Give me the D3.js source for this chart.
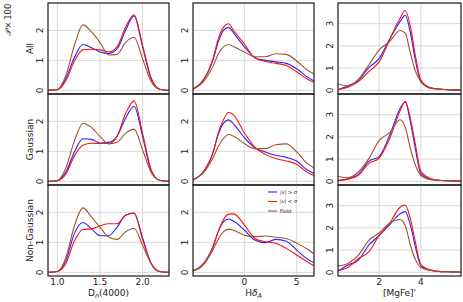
<!DOCTYPE html>
<html><head><meta charset="utf-8">
<script src="https://cdn.jsdelivr.net/npm/d3@7"></script>
<style>body{margin:0;background:#fff}svg{display:block;font-family:"DejaVu Sans",sans-serif}</style>
</head><body><svg id="c" width="463" height="302"></svg>
<script>
// ---- data ----
const rowNames = ["All", "Gaussian", "Non-Gaussian"];
const seriesNames = ["|v| > σ", "|v| < σ", "Field"];
const seriesColors = ["#2222ff", "#ff1111", "#a0522d"];

const dnX = [0.89, 1.0, 1.1, 1.2, 1.3, 1.4, 1.5, 1.6, 1.7, 1.8, 1.9, 2.0, 2.1, 2.2, 2.31];
const hdX = [-4.9, -4, -3, -2.5, -2, -1.5, -1, 0, 1, 2, 3, 4, 5, 6, 6.65];
const mgX = [0, 0.5, 1, 1.5, 2, 2.5, 3, 3.25, 3.5, 3.75, 4, 4.5, 5, 5.5, 5.93];

const dnTicks = [1.0, 1.5, 2.0];
const hdTicks = [-5, 0, 5];
const mgTicks = [0, 2, 4];
const yTicksA = [0, 1, 2];
const yTicksB = [0, 1, 2, 3];

// Dn(4000)
const dnAllHigh = [0, 0.02, 0.4, 1.1, 1.53, 1.42, 1.28, 1.23, 1.38, 2.0, 2.48, 1.45, 0.38, 0.04, 0];
const dnAllLow  = [0, 0.02, 0.32, 0.98, 1.35, 1.37, 1.35, 1.28, 1.45, 2.1, 2.52, 1.5, 0.42, 0.04, 0];
const dnAllField= [0, 0.03, 0.5, 1.5, 2.18, 1.95, 1.6, 1.18, 1.2, 1.6, 1.77, 1.05, 0.3, 0.04, 0];
const dnGHigh   = [0, 0.02, 0.32, 0.98, 1.42, 1.4, 1.28, 1.3, 1.5, 2.1, 2.5, 1.5, 0.35, 0.04, 0];
const dnGLow    = [0, 0.02, 0.25, 0.85, 1.2, 1.27, 1.26, 1.26, 1.5, 2.25, 2.68, 1.6, 0.4, 0.04, 0];
const dnGField  = [0, 0.03, 0.45, 1.35, 1.93, 1.8, 1.5, 1.25, 1.3, 1.6, 1.74, 1.05, 0.3, 0.04, 0];
const dnNHigh   = [0, 0.03, 0.4, 1.3, 1.66, 1.45, 1.22, 1.22, 1.5, 1.9, 1.97, 1.15, 0.3, 0.03, 0];
const dnNLow    = [0, 0.03, 0.3, 1.05, 1.43, 1.45, 1.55, 1.62, 1.62, 1.9, 1.98, 1.1, 0.3, 0.03, 0];
const dnNField  = [0, 0.03, 0.5, 1.55, 2.15, 1.85, 1.5, 1.18, 1.1, 1.35, 1.47, 0.9, 0.3, 0.03, 0];

// H delta A
const hdAllHigh = [0.05, 0.3, 1.0, 1.6, 2.0, 2.1, 1.9, 1.45, 1.1, 1.0, 0.95, 0.9, 0.72, 0.45, 0.32];
const hdAllLow  = [0.05, 0.3, 1.05, 1.7, 2.1, 2.22, 1.98, 1.55, 1.08, 0.97, 0.9, 0.83, 0.62, 0.38, 0.27];
const hdAllField= [0.05, 0.25, 0.8, 1.2, 1.45, 1.53, 1.45, 1.28, 1.12, 1.12, 1.22, 1.2, 0.98, 0.68, 0.55];
const hdGHigh   = [0.05, 0.28, 0.95, 1.55, 1.93, 2.05, 1.9, 1.46, 1.12, 0.98, 0.87, 0.8, 0.68, 0.38, 0.27];
const hdGLow    = [0.05, 0.28, 0.95, 1.6, 2.05, 2.3, 2.2, 1.62, 1.14, 0.9, 0.76, 0.68, 0.57, 0.3, 0.2];
const hdGField  = [0.05, 0.25, 0.78, 1.15, 1.42, 1.56, 1.5, 1.26, 1.09, 1.09, 1.22, 1.25, 0.98, 0.6, 0.45];
const hdNHigh   = [0.05, 0.25, 0.85, 1.35, 1.68, 1.78, 1.7, 1.41, 1.08, 0.99, 1.1, 1.04, 0.74, 0.45, 0.32];
const hdNLow    = [0.05, 0.25, 0.85, 1.35, 1.75, 1.94, 1.95, 1.58, 1.13, 1.02, 0.97, 0.8, 0.58, 0.35, 0.22];
const hdNField  = [0.05, 0.22, 0.75, 1.1, 1.35, 1.44, 1.4, 1.24, 1.19, 1.21, 1.17, 1.13, 0.97, 0.78, 0.62];

// [MgFe]'
const mgAllHigh = [0.03, 0.2, 0.44, 1.02, 1.44, 2.3, 3.09, 3.38, 2.57, 1.3, 0.39, 0.1, 0.05, 0.02, 0.01];
const mgAllLow  = [0.02, 0.14, 0.39, 0.84, 1.29, 2.27, 3.24, 3.59, 2.87, 1.5, 0.47, 0.1, 0.05, 0.02, 0.01];
const mgAllField= [0.29, 0.2, 0.5, 1.14, 1.82, 2.19, 2.69, 2.57, 1.67, 0.84, 0.39, 0.08, 0.05, 0.02, 0.01];
const mgGHigh   = [0.03, 0.12, 0.31, 0.9, 1.12, 2.07, 3.27, 3.57, 2.67, 1.4, 0.35, 0.08, 0.04, 0.02, 0.01];
const mgGLow    = [0.03, 0.1, 0.27, 0.8, 1.05, 1.92, 3.16, 3.6, 2.82, 1.6, 0.45, 0.12, 0.04, 0.02, 0.01];
const mgGField  = [0.22, 0.16, 0.42, 1.02, 1.84, 2.19, 2.77, 2.44, 1.47, 0.7, 0.27, 0.07, 0.04, 0.02, 0.01];
const mgNHigh   = [0.05, 0.33, 0.55, 1.22, 1.66, 2.14, 2.63, 2.73, 2.11, 1.1, 0.3, 0.08, 0.03, 0.02, 0.01];
const mgNLow    = [0.07, 0.22, 0.62, 0.92, 1.66, 2.21, 2.93, 3.03, 2.41, 1.3, 0.35, 0.1, 0.03, 0.02, 0.01];
const mgNField  = [0.28, 0.4, 0.77, 1.44, 1.77, 2.21, 2.38, 2.11, 1.22, 0.55, 0.22, 0.08, 0.03, 0.02, 0.01];

// ---- layout ----
const svg = d3.select("#c");
const colLeft = [48, 193, 338], colW = [121, 121, 123];
const rowTop = [3, 94, 185], rowH = 91;
const cols = [
  {x: dnX, dom: [0.89, 2.31], ticks: dnTicks, fmt: d3.format(".1f"), ydom: [-0.12, 2.91], yt: yTicksA,
   rows: [[dnAllHigh, dnAllLow, dnAllField], [dnGHigh, dnGLow, dnGField], [dnNHigh, dnNLow, dnNField]]},
  {x: hdX, dom: [-4.9, 6.65], ticks: hdTicks, fmt: d3.format("d"), ydom: [-0.12, 2.91], yt: yTicksA,
   rows: [[hdAllHigh, hdAllLow, hdAllField], [hdGHigh, hdGLow, hdGField], [hdNHigh, hdNLow, hdNField]]},
  {x: mgX, dom: [0.02, 5.93], ticks: mgTicks, fmt: d3.format("d"), ydom: [-0.165, 3.93], yt: yTicksB,
   rows: [[mgAllHigh, mgAllLow, mgAllField], [mgGHigh, mgGLow, mgGField], [mgNHigh, mgNLow, mgNField]]}
];

const defs = svg.append("defs");
cols.forEach((c, ci) => {
  const xs = d3.scaleLinear().domain(c.dom).range([colLeft[ci], colLeft[ci] + colW[ci]]);
  c.rows.forEach((series, ri) => {
    const ys = d3.scaleLinear().domain(c.ydom).range([rowTop[ri] + rowH, rowTop[ri]]);
    const id = `clip${ci}${ri}`;
    defs.append("clipPath").attr("id", id).append("rect")
      .attr("x", colLeft[ci]).attr("y", rowTop[ri]).attr("width", colW[ci]).attr("height", rowH);
    const g = svg.append("g");
    // grid
    const gg = g.append("g").attr("clip-path", `url(#${id})`);
    c.ticks.filter(t => t > c.dom[0] && t < c.dom[1]).forEach(t => {
      gg.append("line").attr("x1", xs(t)).attr("x2", xs(t)).attr("y1", rowTop[ri]).attr("y2", rowTop[ri] + rowH)
        .attr("stroke", "#d4d4d4").attr("stroke-width", 0.9);
    });
    c.yt.forEach(t => {
      gg.append("line").attr("x1", colLeft[ci]).attr("x2", colLeft[ci] + colW[ci]).attr("y1", ys(t)).attr("y2", ys(t))
        .attr("stroke", "#d4d4d4").attr("stroke-width", 0.9);
      g.append("text").attr("transform", `translate(${colLeft[ci] - 5.5},${ys(t)}) rotate(-90)`)
        .attr("text-anchor", "middle").attr("font-size", 9).attr("fill", "#222").text(t);
    });
    // curves
    const line = d3.line().x((d, i) => xs(c.x[i])).y(d => ys(d)).curve(d3.curveMonotoneX);
    const cg = g.append("g").attr("clip-path", `url(#${id})`);
    series.forEach((vals, si) => {
      cg.append("path").attr("d", line(vals)).attr("fill", "none")
        .attr("stroke", seriesColors[si]).attr("stroke-width", 1.1);
    });
    // frame
    g.append("rect").attr("x", colLeft[ci]).attr("y", rowTop[ri]).attr("width", colW[ci]).attr("height", rowH)
      .attr("fill", "none").attr("stroke", "#1a1a1a").attr("stroke-width", 1.2);
    // x tick labels on bottom row
    if (ri === 2) {
      c.ticks.filter(t => t > c.dom[0] && t < c.dom[1]).forEach(t => {
        g.append("text").attr("x", xs(t)).attr("y", rowTop[ri] + rowH + 9)
          .attr("text-anchor", "middle").attr("font-size", 9).attr("fill", "#222").text(c.fmt(t));
      });
    }
  });
});

// row labels
rowNames.forEach((n, ri) => {
  svg.append("text").attr("transform", `translate(32.5,${rowTop[ri] + rowH / 2}) rotate(-90)`)
    .attr("text-anchor", "middle").attr("font-size", 9).attr("fill", "#222").text(n);
});
svg.append("text").attr("transform", "translate(11,20) rotate(-90)")
  .attr("text-anchor", "middle").attr("font-size", 8.5).attr("fill", "#222")
  .html('<tspan font-style="italic" font-family="DejaVu Serif">𝒫</tspan>\u2009×\u2009100');

// x axis labels
const xl = 296;
const t1 = svg.append("text").attr("x", colLeft[0] + colW[0] / 2).attr("y", xl).attr("text-anchor", "middle")
  .attr("font-size", 9).attr("fill", "#222");
t1.append("tspan").text("D");
t1.append("tspan").attr("font-size", 6.5).attr("dy", 2).attr("font-style", "italic").text("n");
t1.append("tspan").attr("dy", -2).text("(4000)");
const t2 = svg.append("text").attr("x", colLeft[1] + colW[1] / 2).attr("y", xl).attr("text-anchor", "middle")
  .attr("font-size", 9).attr("fill", "#222");
t2.append("tspan").text("H");
t2.append("tspan").attr("font-style", "italic").text("δ");
t2.append("tspan").attr("font-size", 6.5).attr("dy", 2).attr("font-style", "italic").text("A");
svg.append("text").attr("x", colLeft[2] + colW[2] / 2).attr("y", xl).attr("text-anchor", "middle")
  .attr("font-size", 9).attr("fill", "#222").text("[MgFe]'");

// legend
const legY = [192, 201.5, 211];
seriesNames.forEach((n, i) => {
  svg.append("line").attr("x1", 268).attr("x2", 277).attr("y1", legY[i]).attr("y2", legY[i])
    .attr("stroke", seriesColors[i]).attr("stroke-width", 1.1);
  const t = svg.append("text").attr("x", 280).attr("y", legY[i] + 1.8).attr("font-size", 5).attr("fill", "#222");
  if (i < 2) {
    t.append("tspan").text("|");
    t.append("tspan").attr("font-style", "italic").text("v");
    t.append("tspan").text(i === 0 ? "| > " : "| < ");
    t.append("tspan").attr("font-style", "italic").text("σ");
  } else t.text(n);
});
</script></body></html>
